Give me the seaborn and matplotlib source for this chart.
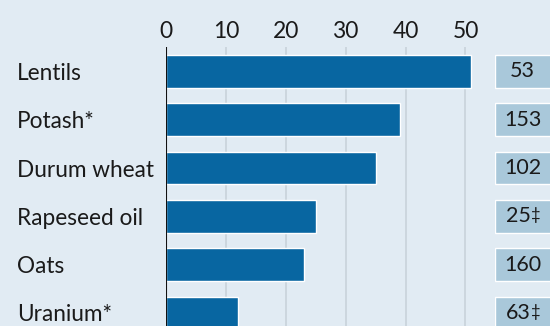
import matplotlib
matplotlib.use("Agg")
import matplotlib.pyplot as plt
import seaborn as sns
import pandas as pd

# Commodity values, and the figure printed in the shaded box on the right
categories = ["Lentils", "Potash*", "Durum wheat", "Rapeseed oil", "Oats", "Uranium*"]
values = [51, 39, 35, 25, 23, 12]
box_numbers = ["53", "153", "102", "25", "160", "63"]
box_marks = ["", "", "", "‡", "", "‡"]
x_ticks = [0, 10, 20, 30, 40, 50]

BG = "#e1ebf3"
BAR = "#0866a1"
BOX = "#a9c8da"
GRID = "#c6d0d8"
TEXT = "#1a1a1a"

sns.set_theme(style="white")
plt.rcParams["font.family"] = ["Lato", "DejaVu Sans"]

df = pd.DataFrame({"category": categories, "value": values})

W, H = 550, 326
fig = plt.figure(figsize=(W / 100, H / 100), dpi=100, facecolor=BG)

# main bar panel
left_px, right_px, top_px, bottom_px = 166, 486, 47, 326
ax = fig.add_axes([left_px / W, 1 - bottom_px / H,
                   (right_px - left_px) / W, (bottom_px - top_px) / H])
ax.set_facecolor(BG)

sns.barplot(data=df, y="category", x="value", orient="h", color=BAR,
            saturation=1, width=0.68, ax=ax, zorder=3)

ax.set_xlim(0, (right_px - left_px) / 5.99)
ax.set_ylim(5.27, -0.507)
ax.set_xticks(x_ticks)
ax.set_xticklabels([str(t) for t in x_ticks], fontsize=16.5, color=TEXT)
ax.xaxis.tick_top()
ax.tick_params(axis="x", length=0, pad=3.5)
ax.grid(axis="x", color=GRID, linewidth=1.1, zorder=0)
ax.grid(axis="y", visible=False)
ax.axvline(0, color="#111111", linewidth=1.5, zorder=4)

ax.tick_params(axis="y", length=0, pad=(left_px - 17) * 0.72)
for lab in ax.get_yticklabels():
    lab.set_horizontalalignment("left")
    lab.set_fontsize(16.3)
    lab.set_color(TEXT)

ax.set_xlabel("")
ax.set_ylabel("")
for s in ax.spines.values():
    s.set_visible(False)

# shaded number boxes on the right
box_left = 495
ax2 = fig.add_axes([box_left / W, 1 - bottom_px / H,
                    (W - box_left) / W, (bottom_px - top_px) / H])
ax2.set_facecolor("none")
ax2.set_xlim(0, 1)
ax2.set_ylim(5.27, -0.507)
ypos = list(range(len(categories)))
ax2.barh(ypos, [1.2] * len(ypos), height=0.68, color=BOX, left=0)
ax2.axis("off")
for y, num, mark in zip(ypos, box_numbers, box_marks):
    if mark:
        t = ax2.text(0.42, y, num, ha="center", va="center",
                     fontsize=15.5, color=TEXT)
        ax2.annotate(mark, xy=(1.0, 0.95), xycoords=t, xytext=(0, 0),
                     textcoords="offset points", ha="left", va="top",
                     fontsize=12, color=TEXT)
    else:
        t = ax2.text(0.5, y, num, ha="center", va="center",
                     fontsize=15.5, color=TEXT)

fig.savefig("out.png", dpi=100, facecolor=BG)
